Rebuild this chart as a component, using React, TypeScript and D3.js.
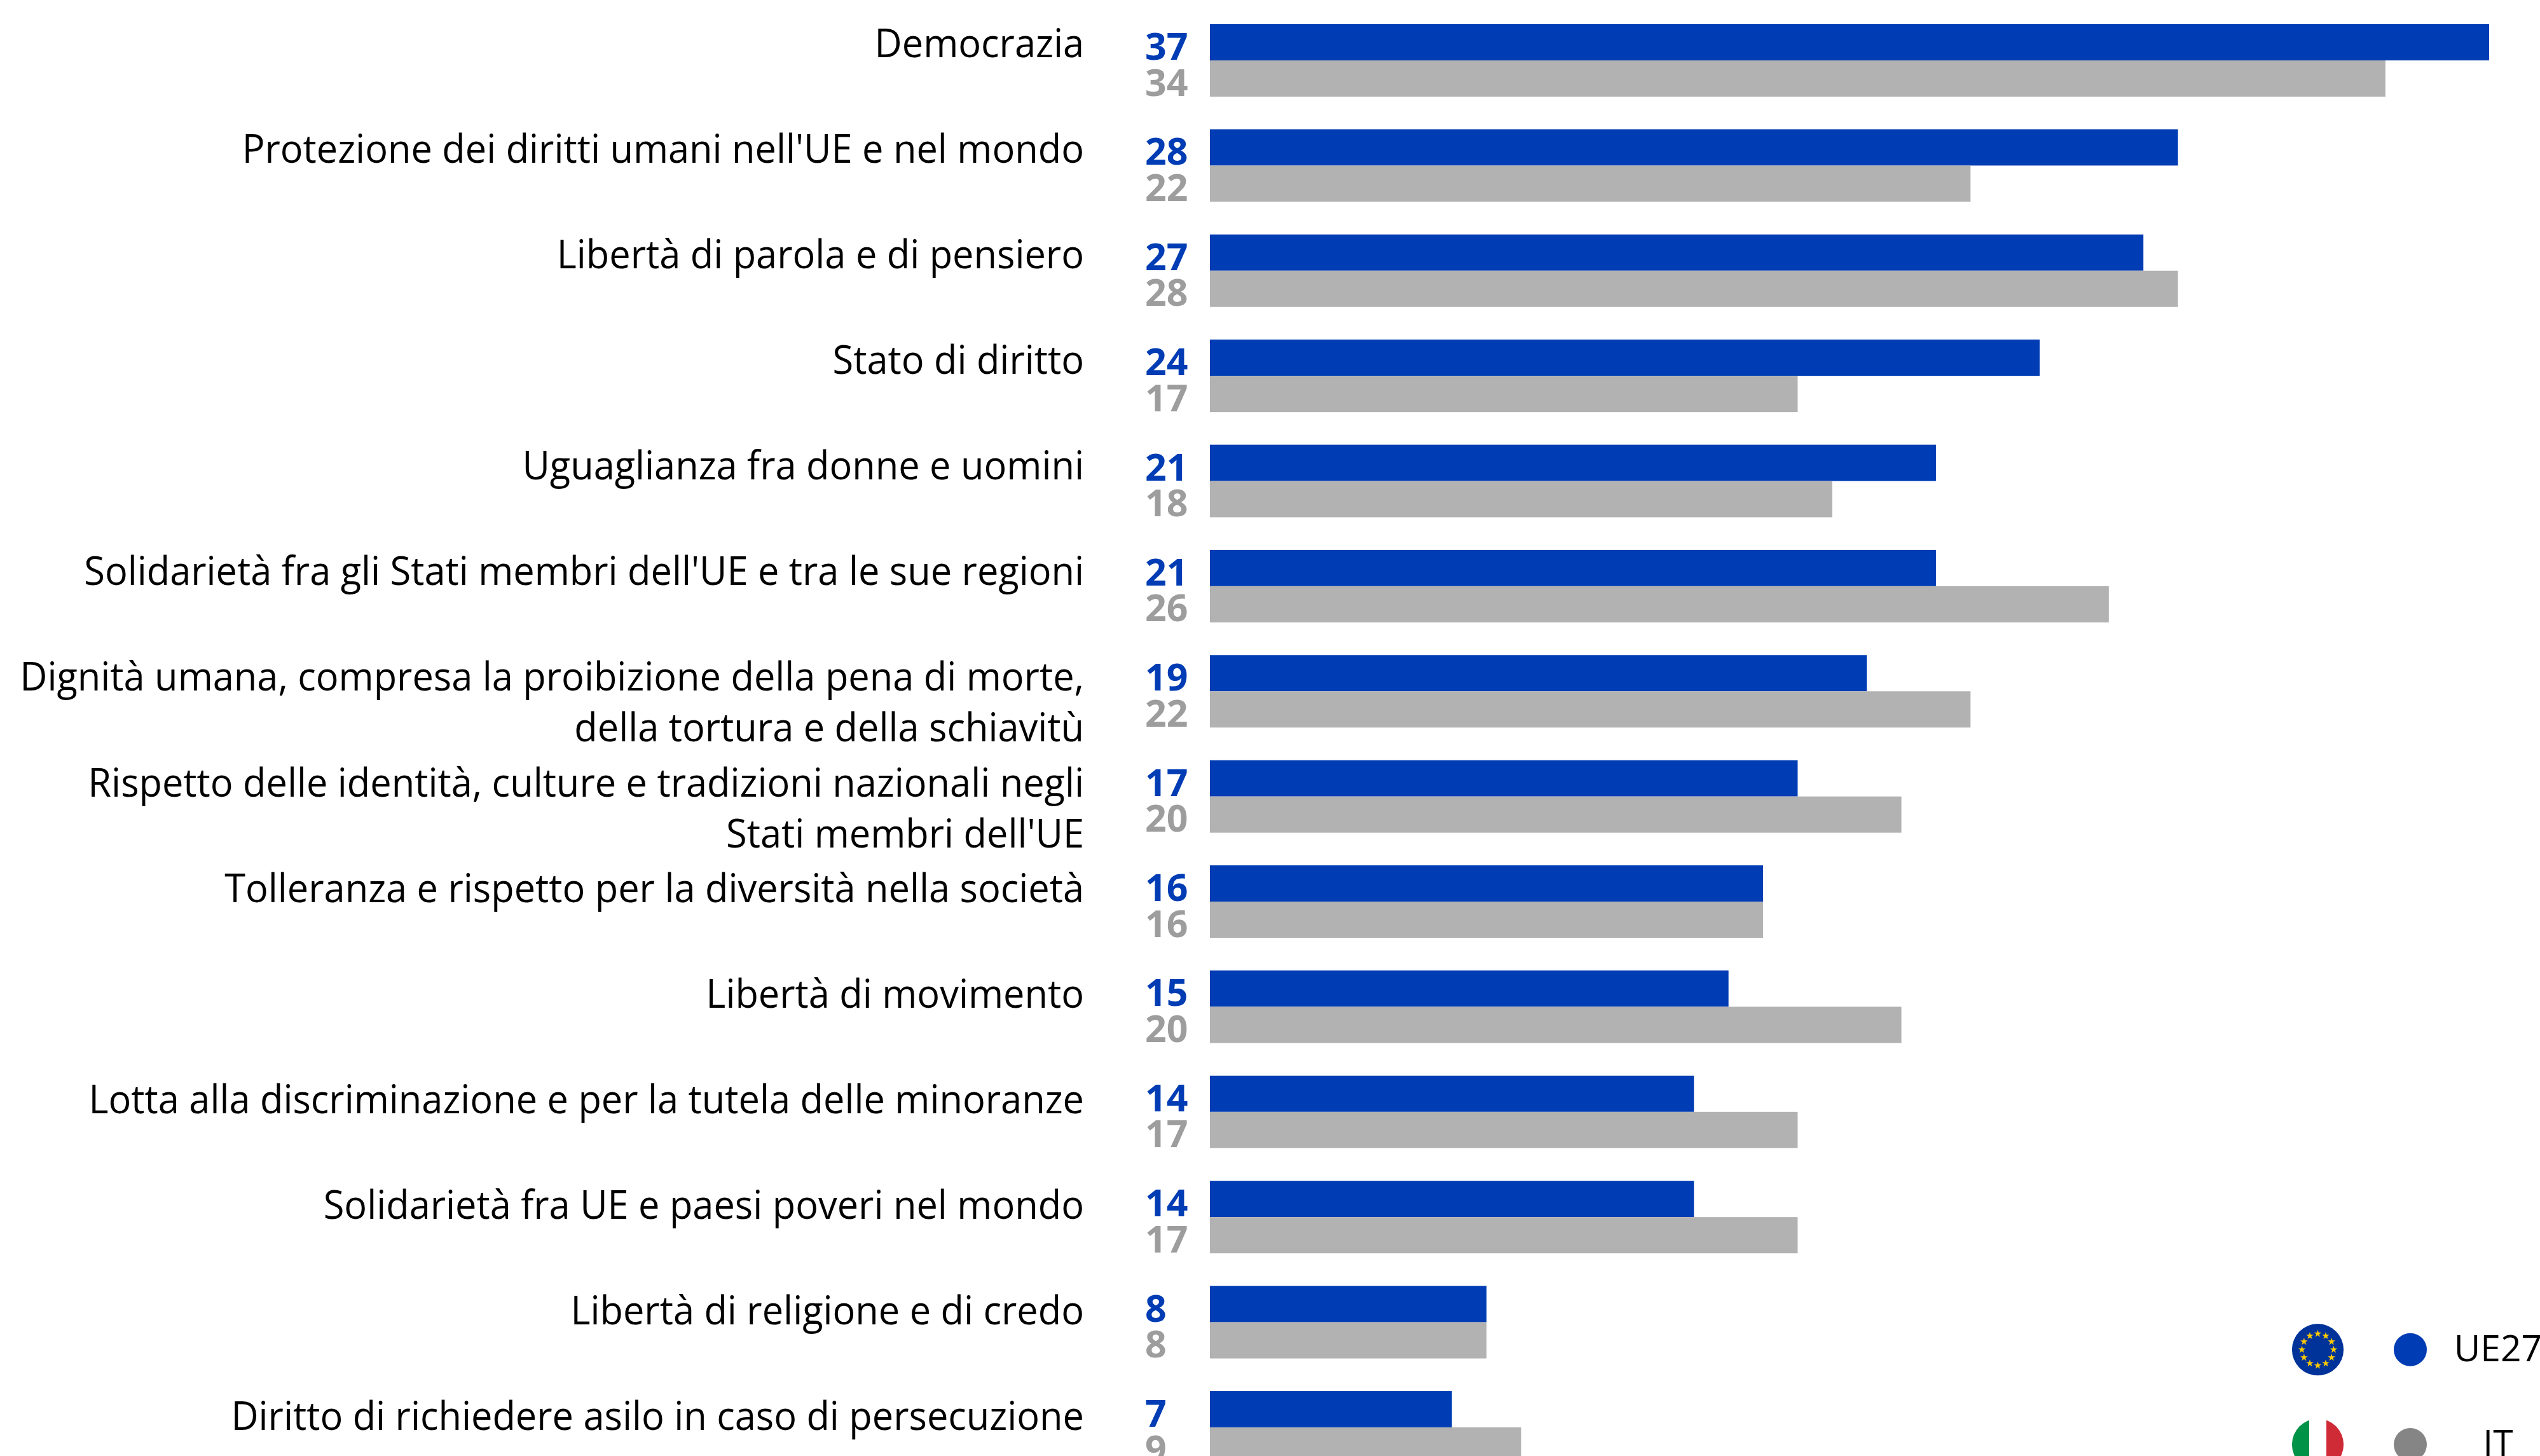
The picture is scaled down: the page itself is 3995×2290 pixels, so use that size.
import React from "react";
import * as d3 from "d3";

const categories: string[][] = [
  ["Democrazia"],
  ["Protezione dei diritti umani nell'UE e nel mondo"],
  ["Libertà di parola e di pensiero"],
  ["Stato di diritto"],
  ["Uguaglianza fra donne e uomini"],
  ["Solidarietà fra gli Stati membri dell'UE e tra le sue regioni"],
  ["Dignità umana, compresa la proibizione della pena di morte,", "della tortura e della schiavitù"],
  ["Rispetto delle identità, culture e tradizioni nazionali negli", "Stati membri dell'UE"],
  ["Tolleranza e rispetto per la diversità nella società"],
  ["Libertà di movimento"],
  ["Lotta alla discriminazione e per la tutela delle minoranze"],
  ["Solidarietà fra UE e paesi poveri nel mondo"],
  ["Libertà di religione e di credo"],
  ["Diritto di richiedere asilo in caso di persecuzione"],
];
const ue27 = [37, 28, 27, 24, 21, 21, 19, 17, 16, 15, 14, 14, 8, 7];
const it = [34, 22, 28, 17, 18, 26, 22, 20, 16, 20, 17, 17, 8, 9];
const seriesNames = ["UE27", "IT"];

const W = 3995, H = 2290;
const BLUE = "#003cb4", GREY = "#b2b2b2", GREYT = "#9d9d9d", DOT = "#858585";
const FONT = "'Open Sans', sans-serif";
const COND = 0.945;

export default function App() {
  const x = d3.scaleLinear().domain([0, 37]).range([1903, 3915]);
  const step = 165.38;
  const y = d3.scaleBand<number>()
    .domain(categories.map((_, i) => i))
    .range([38, 38 + 14 * step - (step - 114)])
    .paddingInner(1 - 114 / step);
  const bh = y.bandwidth() / 2;
  const labelY = d3.scaleLinear().domain([0, 13]).range([90, 2249]);
  const star = d3.symbol().type(d3.symbolStar).size(42)() as string;
  const flagY = [2122.7, 2272];

  return (
    <svg width={W} height={H} viewBox={`0 0 ${W} ${H}`} style={{ position: "absolute", left: 0, top: 0, background: "#fff" }} fontFamily={FONT}>
      <defs>
        <clipPath id="itc"><circle cx={3645.5} cy={flagY[1]} r={40.6} /></clipPath>
      </defs>
      {categories.map((lines, i) => {
        const t = y(i)!;
        return (
          <g key={i}>
            <rect x={x(0)} y={t} width={x(ue27[i]) - x(0)} height={bh} fill={BLUE} />
            <rect x={x(0)} y={t + bh} width={x(it[i]) - x(0)} height={bh} fill={GREY} />
            <text x={1801} y={t + 56} fontSize={59} fontWeight={700} fill={BLUE}>{ue27[i]}</text>
            <text x={1801} y={t + 112.5} fontSize={59} fontWeight={700} fill={GREYT}>{it[i]}</text>
            <g transform={`translate(1705,${labelY(i)}) scale(${COND},1)`}>
              {lines.map((l, k) => (
                <text key={k} x={0} y={k * 80} fontSize={63} textAnchor="end" fill="#000">{l}</text>
              ))}
            </g>
          </g>
        );
      })}
      <circle cx={3645.5} cy={flagY[0]} r={40.6} fill="#003399" />
      {d3.range(12).map((k) => (
        <path key={k} d={star} fill="#ffcc00"
          transform={`translate(${3645.5 + 25 * Math.sin((k * Math.PI) / 6)},${flagY[0] - 25 * Math.cos((k * Math.PI) / 6)})`} />
      ))}
      <g clipPath="url(#itc)">
        <rect x={3604} y={flagY[1] - 41} width={28} height={82} fill="#009246" />
        <rect x={3632} y={flagY[1] - 41} width={27} height={82} fill="#fff" />
        <rect x={3659} y={flagY[1] - 41} width={28} height={82} fill="#ce2b37" />
      </g>
      {seriesNames.map((n, i) => (
        <g key={n}>
          <circle cx={3791} cy={flagY[i]} r={26} fill={i === 0 ? BLUE : DOT} />
          <text x={3929} y={flagY[i] + 18} fontSize={57} textAnchor="middle" fill="#000">{n}</text>
        </g>
      ))}
    </svg>
  );
}
